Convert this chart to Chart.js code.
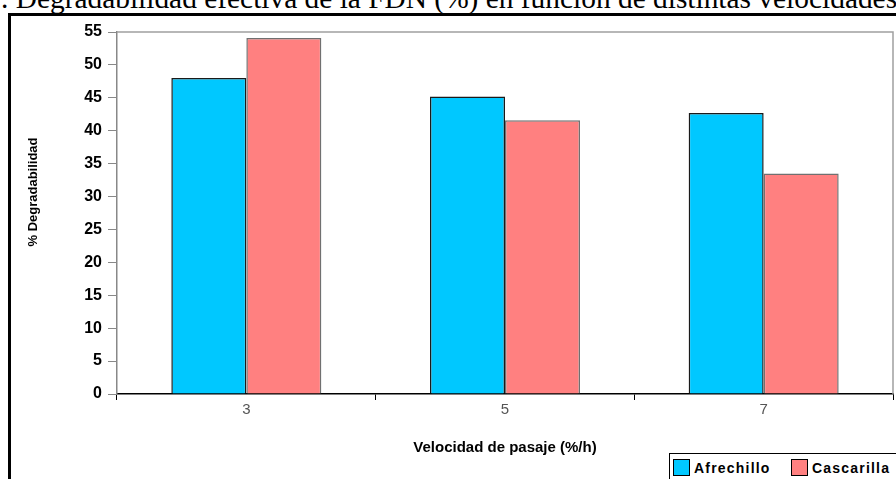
<!DOCTYPE html>
<html>
<head>
<meta charset="utf-8">
<script src="https://cdn.jsdelivr.net/npm/chart.js@4.4.0/dist/chart.umd.min.js"></script>
<style>
  html, body { margin: 0; padding: 0; background: #fff; overflow: hidden; }
  #wrap { position: relative; width: 896px; height: 479px; overflow: hidden; }
  #title {
    position: absolute; left: 1px; top: -18px; white-space: nowrap;
    font-family: "Liberation Serif", "Times New Roman", serif; font-size: 29.4px; color: #000;
  }
  #frame {
    position: absolute; left: 8px; top: 13px; width: 900px; height: 500px;
    border-left: 3px solid #000; border-top: 3px solid #000;
  }
  #chart { position: absolute; left: 0; top: 0; }
  #legend {
    position: absolute; left: 669px; top: 453px; width: 240px; height: 40px;
    border: 1px solid #000; background: #fff;
    font-family: "Liberation Sans", Arial, sans-serif; font-weight: bold; font-size: 14px;
  }
  #legend span.item { position: absolute; top: 5px; white-space: nowrap; letter-spacing: 1.2px; }
  #legend i { display: inline-block; width: 15px; height: 15px; vertical-align: -3px; margin-right: 4px; border: 1px solid #000; }
</style>
</head>
<body>
<div id="wrap">
  <div id="title">. Degradabilidad efectiva de la FDN (%) en función de distintas velocidades</div>
  <div id="frame"></div>
  <canvas id="chart" width="896" height="479"></canvas>
  <div id="legend"></div>
</div>
<script>
const categories = ['3', '5', '7'];
const afrechillo = [48.0, 45.2, 42.7];
const cascarilla = [54.1, 41.6, 33.5];
const yTicks = [0, 5, 10, 15, 20, 25, 30, 35, 40, 45, 50, 55];
const yTitle = '% Degradabilidad';

// gray box round the plot area (top and right sides)
const plotBox = {
  id: 'plotBox',
  beforeDatasetsDraw(chart) {
    const a = chart.chartArea;
    const ctx = chart.ctx;
    ctx.save();
    ctx.strokeStyle = '#a0a0a0';
    ctx.lineWidth = 1.5;
    ctx.beginPath();
    ctx.moveTo(a.left, a.top);
    ctx.lineTo(a.right, a.top);
    ctx.lineTo(a.right, a.bottom);
    ctx.stroke();
    ctx.restore();
  }
};

// y axis title, sits a bit above the middle of the axis like in the original
const yAxisTitle = {
  id: 'yAxisTitle',
  afterDraw(chart) {
    const ctx = chart.ctx;
    ctx.save();
    ctx.translate(33, 192);
    ctx.rotate(-Math.PI / 2);
    ctx.font = 'bold 13px "Liberation Sans", Arial';
    ctx.fillStyle = '#000';
    ctx.textAlign = 'center';
    ctx.textBaseline = 'middle';
    ctx.fillText(yTitle, 0, 0);
    ctx.restore();
  }
};

const chart = new Chart(document.getElementById('chart'), {
  type: 'bar',
  data: {
    labels: categories,
    datasets: [
      {
        label: 'Afrechillo',
        data: afrechillo,
        backgroundColor: '#00c8ff',
        borderColor: '#1a1a1a',
        borderWidth: 1.5
      },
      {
        label: 'Cascarilla',
        data: cascarilla,
        backgroundColor: '#ff8080',
        borderColor: '#707070',
        borderWidth: 1.5
      }
    ]
  },
  options: {
    responsive: false,
    animation: false,
    layout: { padding: { top: 32, right: 3, left: 0, bottom: 0 } },
    plugins: { legend: { display: false }, tooltip: { enabled: false } },
    datasets: { bar: { categoryPercentage: 0.58, barPercentage: 1.0 } },
    scales: {
      x: {
        grid: { offset: true, drawOnChartArea: false, tickLength: 6, color: '#000', tickColor: '#000' },
        border: { color: '#000', width: 1.5 },
        ticks: {
          color: '#555',
          padding: 1,
          font: { family: '"Liberation Sans Narrow", "Liberation Sans", Arial', size: 15 }
        },
        title: {
          display: true,
          text: 'Velocidad de pasaje (%/h)',
          color: '#000',
          font: { family: '"Liberation Sans", Arial', size: 15, weight: 'bold' },
          padding: { top: 0, bottom: 22 }
        },
        afterFit(scale) { scale.height = 85; }
      },
      y: {
        min: 0,
        max: 55,
        afterBuildTicks(scale) { scale.ticks = yTicks.map(v => ({ value: v })); },
        grid: { drawOnChartArea: false, tickLength: 9, color: '#888', tickColor: '#888' },
        border: { color: '#888', width: 1.5 },
        ticks: {
          color: '#000',
          padding: 6,
          font: { family: '"Liberation Sans", Arial', size: 16, weight: 'bold' }
        },
        afterFit(scale) { scale.width = 117; }
      }
    }
  },
  plugins: [plotBox, yAxisTitle]
});

// legend from the chart's datasets
const legend = document.getElementById('legend');
const legendX = [3, 121];
chart.data.datasets.forEach((ds, i) => {
  const item = document.createElement('span');
  item.className = 'item';
  item.style.left = legendX[i] + 'px';
  item.innerHTML = '<i style="background:' + ds.backgroundColor + '"></i>' + ds.label;
  legend.appendChild(item);
});
</script>
</body>
</html>
